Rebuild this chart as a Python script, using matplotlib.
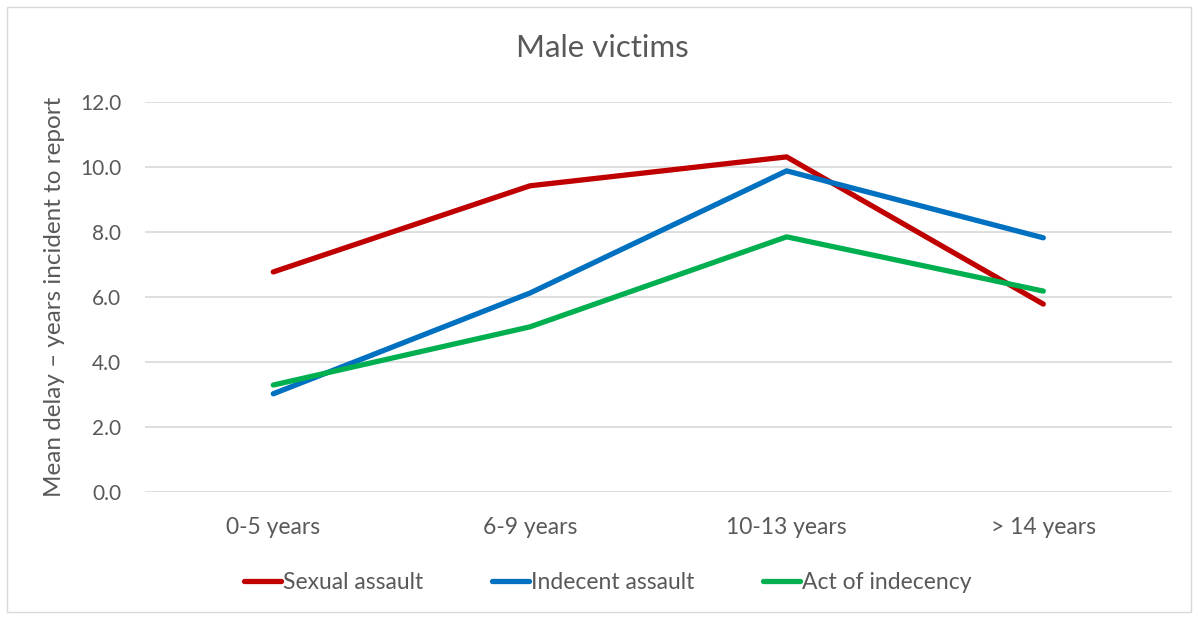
import matplotlib
matplotlib.use("Agg")
import matplotlib.pyplot as plt
from matplotlib.patches import Rectangle

categories = ["0-5 years", "6-9 years", "10-13 years", "> 14 years"]
sexual_assault = [6.77, 9.42, 10.31, 5.78]
indecent_assault = [3.02, 6.12, 9.88, 7.82]
act_of_indecency = [3.29, 5.08, 7.85, 6.18]
series_names = ["Sexual assault", "Indecent assault", "Act of indecency"]
yticks = [0, 2, 4, 6, 8, 10, 12]

plt.rcParams['font.family'] = ['Lato', 'DejaVu Sans']
text_color = "#595959"

fig = plt.figure(figsize=(11.98, 6.18), dpi=100)
fig.patches.append(Rectangle((0.006, 0.01), 0.988, 0.978, transform=fig.transFigure,
                             fill=False, edgecolor="#D9D9D9", linewidth=1.0))
ax = fig.add_axes([0.121, 0.204, 0.857, 0.631])

x = list(range(len(categories)))
colors = ["#C00000", "#0070C0", "#00B050"]
for vals, name, c in zip([sexual_assault, indecent_assault, act_of_indecency], series_names, colors):
    ax.plot(x, vals, color=c, linewidth=3.8, solid_capstyle="round", label=name, zorder=3)

ax.set_xlim(-0.5, len(categories) - 0.5)
ax.set_ylim(0, 12)
ax.set_yticks(yticks)
ax.set_yticklabels([f"{v:.1f}" for v in yticks], fontsize=15, color=text_color)
ax.set_xticks(x)
ax.set_xticklabels(categories, fontsize=16.5, color=text_color)
ax.tick_params(axis="both", length=0)
ax.tick_params(axis="y", pad=17)
ax.tick_params(axis="x", pad=18)
ax.grid(axis="y", color="#D9D9D9", linewidth=1.2)
ax.set_axisbelow(True)
for s in ax.spines.values():
    s.set_visible(False)

ax.set_ylabel("Mean delay \u2013 years incident to report", fontsize=17.5, color=text_color, labelpad=11)
fig.text(0.503, 0.922, "Male victims", ha="center", va="center", fontsize=22.5, color=text_color)

leg = fig.legend(loc="center", bbox_to_anchor=(0.507, 0.058), ncol=3, frameon=False,
                 fontsize=16.5, handlelength=1.65, handletextpad=0.05, columnspacing=3.0)
for t in leg.get_texts():
    t.set_color(text_color)

fig.savefig("out.png", dpi=100)
